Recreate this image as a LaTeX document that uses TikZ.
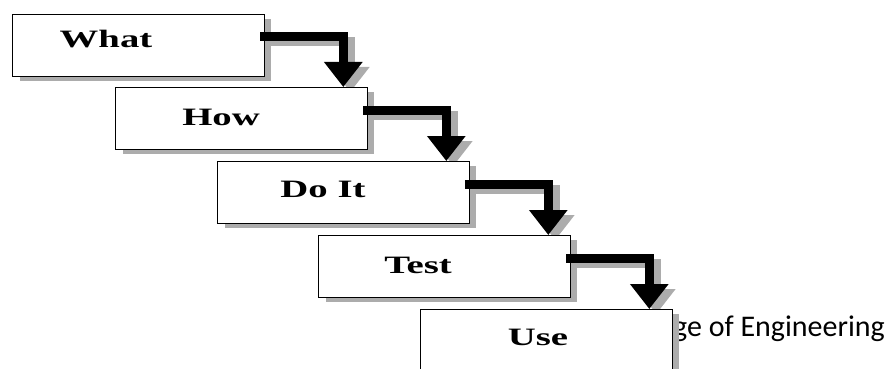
\documentclass[tikz,border=0pt]{standalone}
\usepackage{fontspec}
\usetikzlibrary{arrows.meta,shadows,calc}
\newfontfamily\lblfont{Liberation Serif}
\newfontfamily\engfont{Carlito}
\definecolor{shadowgray}{RGB}{172,172,172}
\pgfdeclarelayer{bg}
\pgfsetlayers{bg,main}
\tikzset{
  stairbox/.style={draw=black, line width=0.8pt, fill=white, anchor=north west,
    minimum width=251.5pt, minimum height=62pt, inner sep=0pt,
    drop shadow={shadow xshift=7.5pt, shadow yshift=-5pt, fill=shadowgray, opacity=1}},
  stairlabel/.style={anchor=base, inner sep=0pt, font=\lblfont\bfseries\fontsize{25}{29}\selectfont},
  conn/.style={line width=9pt, line join=miter, -{Triangle[width=37pt,length=25pt]}},
}
\newcommand\stairarrow[3]{%
  \path (#1.north east) ++(-4,23) coordinate (#3s) ++(83,0) coordinate (#3c);
  \coordinate (#3e) at (#3c |- #2.north);
  \begin{pgfonlayer}{bg}
    \draw[conn, draw=shadowgray] ([xshift=7pt,yshift=-5pt]#3s) -| ([xshift=7pt,yshift=-5pt]#3e);
  \end{pgfonlayer}
  \draw[conn] (#3s) -| (#3e);
}
\begin{document}
\begin{tikzpicture}[x=1pt,y=-1pt]
\useasboundingbox (0,0) rectangle (892,369);
\clip (0,0) rectangle (892,369);
\node[anchor=base west, inner sep=0pt, font=\engfont\fontsize{30}{35}\selectfont] (eng) at (673,336) {ge of Engineering};
\node[stairbox] (what) at (12,14) {};
\node[stairbox] (how)  at (115,87) {};
\node[stairbox] (doit) at (217,161) {};
\node[stairbox] (test) at (318,235) {};
\node[stairbox] (use)  at (420,309) {};
\node[stairlabel] (lwhat) at (106,48)  {\scalebox{1.55}[1]{What}};
\node[stairlabel] (lhow)  at (221,125) {\scalebox{1.55}[1]{How}};
\node[stairlabel] (ldoit) at (323,197) {\scalebox{1.55}[1]{Do It}};
\node[stairlabel] (ltest) at (418,273) {\scalebox{1.55}[1]{Test}};
\node[stairlabel] (luse)  at (538,345) {\scalebox{1.55}[1]{Use}};
\stairarrow{what}{how}{aa}
\stairarrow{how}{doit}{ab}
\stairarrow{doit}{test}{ac}
\stairarrow{test}{use}{ad}
\end{tikzpicture}
\end{document}
